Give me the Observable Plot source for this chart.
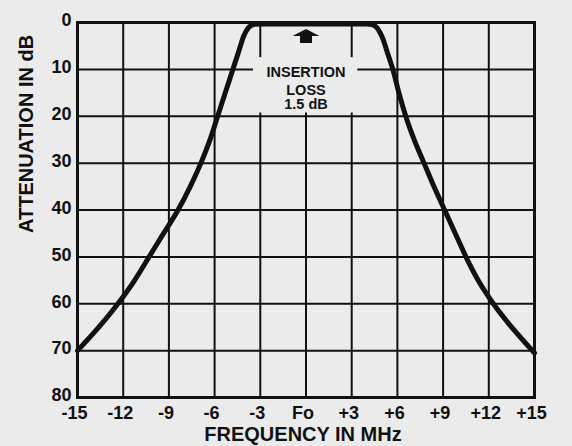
<!DOCTYPE html>
<html>
<head>
<meta charset="utf-8">
<script src="https://cdn.jsdelivr.net/npm/d3@7"></script>
<script src="https://cdn.jsdelivr.net/npm/@observablehq/plot@0.6"></script>
<style>
  html, body { margin: 0; padding: 0; background: #ebebeb; }
  #chart svg { display: block; }
</style>
</head>
<body>
<div id="chart"></div>
<script>
// Frequency offset (MHz) and attenuation (dB)
const freq  = [-15, -13.6, -12.35, -11.25, -10.3, -9.35, -8.4, -7.6, -6.9, -6.3, -5.8, -5.3, -4.8, -4.4, -4.1, -3.8, -3.4, -3.0, 0, 4.0, 4.4, 4.75, 5.05, 5.35, 5.7, 6.1, 6.55, 7.1, 7.75, 8.4, 9.1, 9.8, 10.5, 11.3, 12.3, 13.5, 15];
const atten = [70, 65, 60, 55, 50, 45, 40, 35, 30, 25, 20, 15, 10, 6, 3, 1.2, 0.4, 0.3, 0.3, 0.3, 0.5, 1.5, 3.5, 6.5, 10, 15, 20, 25, 30, 35, 40, 45, 50, 55, 60, 65, 70.5];

const xTicks = [-15, -12, -9, -6, -3, 0, 3, 6, 9, 12, 15];
const xTickLabels = ["-15", "-12", "-9", "-6", "-3", "Fo", "+3", "+6", "+9", "+12", "+15"];
const yTicks = [0, 10, 20, 30, 40, 50, 60, 70, 80];
const noteLines = ["INSERTION", "LOSS", "1.5 dB"];
const xTitle = "FREQUENCY IN MHz";
const yTitle = "ATTENUATION IN dB";

const curve = freq.map((f, i) => ({f, a: atten[i]}));
const bg = "#ebebeb";
const ink = "#111";
const font = "'Liberation Sans', Arial, sans-serif";

const arrowSymbol = {
  draw(ctx) {
    ctx.moveTo(0, -7);
    ctx.lineTo(13.5, 0);
    ctx.lineTo(6, 0);
    ctx.lineTo(6, 7);
    ctx.lineTo(-6, 7);
    ctx.lineTo(-6, 0);
    ctx.lineTo(-13.5, 0);
    ctx.closePath();
  }
};

const chart = Plot.plot({
  width: 572,
  height: 446,
  marginLeft: 77,
  marginRight: 38,
  marginTop: 22,
  marginBottom: 49,
  style: {background: bg, color: ink, fontFamily: font},
  x: {domain: [-15, 15]},
  y: {domain: [0, 80], reverse: true},
  marks: [
    Plot.gridX(xTicks, {stroke: ink, strokeOpacity: 1, strokeWidth: 2}),
    Plot.gridY(yTicks, {stroke: ink, strokeOpacity: 1, strokeWidth: 2}),
    // blank areas behind the annotation
    Plot.rect([0], {x1: -3.45, x2: 3.4, y1: 7.5, y2: 19.3, fill: bg}),
    Plot.rect([0], {x1: -0.4, x2: 0.4, y1: 0.7, y2: 7.6, fill: bg}),
    Plot.frame({stroke: ink, strokeWidth: 3}),
    Plot.axisX(xTicks, {
      tickSize: 0, tickPadding: 9, dx: -3,
      tickFormat: (d) => xTickLabels[xTicks.indexOf(d)],
      fontSize: 18, fontWeight: "bold", label: null
    }),
    Plot.axisY(yTicks, {
      tickSize: 0, tickPadding: 6, dy: -2,
      fontSize: 18, fontWeight: "bold", label: null
    }),
    Plot.line(curve, {x: "f", y: "a", stroke: ink, strokeWidth: 5, curve: "monotone-x", strokeLinejoin: "round", strokeLinecap: "round"}),
    Plot.dot([0], {x: () => 0, y: () => 2.9, symbol: arrowSymbol, fill: ink, stroke: null, r: 5}),
    Plot.text(noteLines, {
      x: () => 0,
      y: (d, i) => [10.7, 14.4, 17.5][i],
      text: (d) => d,
      fontSize: 14.5, fontWeight: "bold", fill: ink, lineHeight: 1
    }),
    Plot.text([xTitle], {frameAnchor: "bottom", dy: 43, text: (d) => d, fontSize: 20, fontWeight: "bold", fill: ink, dx: -3}),
    Plot.text([yTitle], {frameAnchor: "left", rotate: -90, dx: -51, dy: 23, text: (d) => d, fontSize: 20, fontWeight: "bold", fill: ink})
  ]
});
document.getElementById("chart").appendChild(chart);
</script>
</body>
</html>
